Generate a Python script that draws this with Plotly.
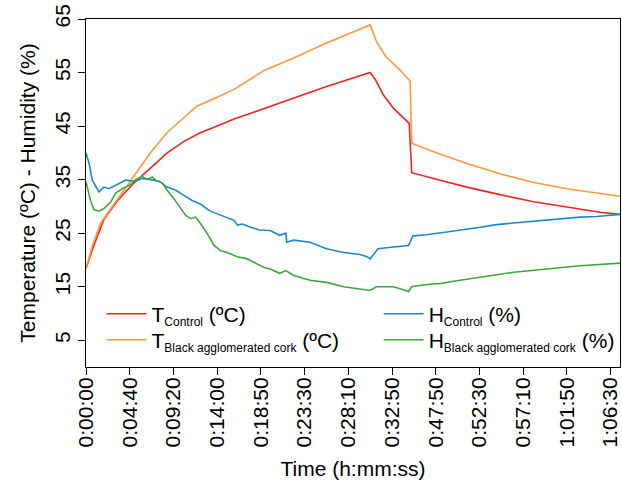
import plotly.graph_objects as go

# ---- data (sample index -> value) ----
tick_idx = [0, 28, 56, 84, 112, 140, 168, 196, 224, 252, 280, 308, 336]
tick_labels = ["0:00:00", "0:04:40", "0:09:20", "0:14:00", "0:18:50", "0:23:30",
               "0:28:10", "0:32:50", "0:47:50", "0:52:30", "0:57:10", "1:01:50", "1:06:30"]

t_ctrl_i = [0, 4, 11.5, 20, 30.8, 41.5, 52, 63, 73.5, 84, 94.8, 105.5, 114, 133, 154, 182,
            185.5, 190.5, 197, 207, 208.6, 222.5, 244, 265, 286, 308, 329, 342]
t_ctrl_v = [18.4, 21.9, 27.6, 31.0, 34.4, 37.2, 40.0, 42.2, 43.8, 45.0, 46.3, 47.4, 48.3, 50.2,
            52.4, 55.0, 53.6, 50.8, 48.3, 45.5, 36.3, 35.2, 33.6, 32.2, 30.9, 29.9, 28.9, 28.5]

t_blk_i = [0, 4, 9.4, 20, 30.8, 41.5, 52, 63, 71, 84, 95, 105.5, 114, 133, 154, 182,
           186, 192, 201, 207.6, 208.6, 222.5, 244, 265, 286, 308, 329, 342]
t_blk_v = [18.4, 22.6, 26.9, 31.3, 35.7, 40.1, 43.8, 46.6, 48.7, 50.4, 51.9, 53.8, 55.4, 57.7,
           60.5, 63.9, 60.8, 58.0, 55.5, 53.4, 41.8, 40.2, 38.0, 36.1, 34.5, 33.3, 32.4, 31.9]

h_ctrl_i = [0, 2, 4, 8.3, 11.5, 14.7, 20, 25.4, 30.8, 36, 41.5, 46.8, 52, 57.5, 63, 68, 73.5,
            79, 84, 89.5, 94.8, 97, 100, 105.5, 111, 118, 124, 128, 128.5, 133, 143.5, 154,
            165, 175.5, 180, 182, 184, 187, 197, 206.6, 209.3, 218, 231, 242, 252.5, 263,
            274, 284.5, 295, 306, 316.5, 327, 342]
h_ctrl_v = [40.0, 38.0, 34.9, 32.7, 33.6, 33.3, 34.1, 34.9, 34.7, 35.2, 35.0, 34.7, 33.6, 33.0,
            32.0, 31.1, 30.4, 29.2, 28.6, 28.0, 27.4, 26.5, 26.7, 26.1, 25.6, 25.5, 24.6, 25.0,
            23.3, 23.7, 23.3, 22.1, 21.4, 21.0, 20.6, 20.2, 21.0, 22.1, 22.4, 22.7, 24.5, 24.7,
            25.2, 25.6, 26.1, 26.6, 26.9, 27.2, 27.5, 27.7, 28.0, 28.1, 28.5]

h_blk_i = [0, 2.9, 5, 8.3, 11.5, 15.8, 19, 23.3, 27.6, 31.8, 36, 39.3, 42.5, 44.6, 49, 52,
           56.4, 60.7, 63.9, 67, 70.3, 73.5, 77.7, 82, 86.3, 90.5, 96.9, 103.3, 109.7, 114,
           118, 124, 128, 133, 143.5, 154, 165, 175.5, 182, 186, 197, 206.6, 208.6, 218, 227,
           237.5, 252.5, 274, 295, 316.5, 342]
h_blk_v = [34.6, 31.1, 29.4, 29.1, 29.6, 30.8, 32.5, 33.3, 33.9, 35.0, 35.6, 35.0, 35.5, 34.9,
           34.3, 33.0, 31.4, 29.6, 28.3, 27.7, 28.0, 26.7, 24.9, 22.7, 21.7, 21.4, 20.6, 20.2,
           19.3, 18.6, 18.3, 17.5, 18.0, 17.1, 16.2, 15.8, 15.0, 14.6, 14.3, 15.0, 15.0, 14.1,
           15.0, 15.4, 15.6, 16.1, 16.7, 17.7, 18.3, 18.9, 19.4]

y_ticks = [5, 15, 25, 35, 45, 55, 65]

FONT = "Liberation Sans, Arial, sans-serif"
FS = 21


def sub(main, s, unit):
    return f"{main}<sub><span style='font-size:12px'>{s}</span></sub> {unit}"


fig = go.Figure()
fig.add_trace(go.Scatter(x=t_ctrl_i, y=t_ctrl_v, mode="lines", line=dict(color="#F22424", width=1.6),
                         name=sub("T", "Control", "(ºC)"), legend="legend"))
fig.add_trace(go.Scatter(x=t_blk_i, y=t_blk_v, mode="lines", line=dict(color="#FF9A3C", width=1.6),
                         name=sub("T", "Black agglomerated cork", "(ºC)"), legend="legend2"))
fig.add_trace(go.Scatter(x=h_ctrl_i, y=h_ctrl_v, mode="lines", line=dict(color="#1F88CC", width=1.6),
                         name=sub("H", "Control", "(%)"), legend="legend3"))
fig.add_trace(go.Scatter(x=h_blk_i, y=h_blk_v, mode="lines", line=dict(color="#3DA83D", width=1.6),
                         name=sub("H", "Black agglomerated cork", "(%)"), legend="legend4"))

legend_common = dict(bgcolor="rgba(0,0,0,0)", borderwidth=0, font=dict(family=FONT, size=FS, color="black"),
                     yanchor="top", xanchor="left", orientation="v", itemwidth=40)
fig.update_layout(
    width=622, height=484,
    margin=dict(l=86, r=2, t=19, b=117, autoexpand=False),
    plot_bgcolor="white", paper_bgcolor="white",
    font=dict(family=FONT, size=FS, color="black"),
    showlegend=True,
    legend=dict(x=0.029, y=0.211, **legend_common),
    legend2=dict(x=0.029, y=0.136, **legend_common),
    legend3=dict(x=0.548, y=0.211, **legend_common),
    legend4=dict(x=0.548, y=0.136, **legend_common),
    xaxis=dict(range=[0, 342], tickvals=tick_idx, ticktext=tick_labels, tickangle=-90,
               ticks="outside", ticklen=7, tickcolor="black", showgrid=False, zeroline=False,
               showline=True, mirror=True, linecolor="black", linewidth=1, automargin=False,
               ticklabelstandoff=-6,
               title=dict(text="Time (h:mm:ss)", standoff=14, font=dict(size=FS)),
               tickfont=dict(size=FS)),
    yaxis=dict(range=[0, 65], tickvals=y_ticks, tickangle=-90,
               ticks="outside", ticklen=7, tickcolor="black", showgrid=False, zeroline=False,
               showline=True, mirror=True, linecolor="black", linewidth=1, automargin=False,
               title=dict(text="Temperature (ºC) - Humidity (%)", standoff=9, font=dict(size=FS)),
               tickfont=dict(size=FS)),
)

fig.write_html("out.html", config={"displayModeBar": False},
               post_script="document.body.style.margin='0';document.body.style.padding='0';")
